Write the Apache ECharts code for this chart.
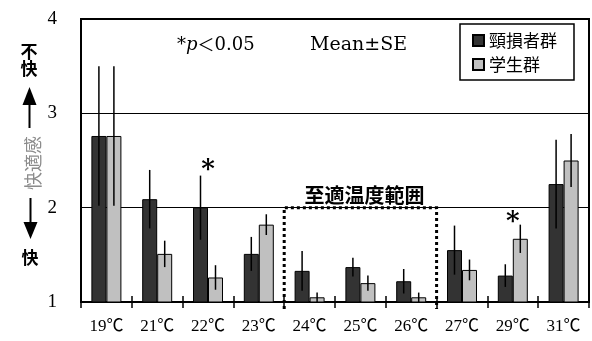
<!DOCTYPE html>
<html>
<head>
<meta charset="utf-8">
<script src="https://cdn.jsdelivr.net/npm/echarts@6/dist/echarts.min.js"></script>
<style>
html,body{margin:0;padding:0;background:#fff;}
#c{width:592px;height:341px;}
</style>
</head>
<body>
<div id="c"></div>
<script>
const categories = ['19℃','21℃','22℃','23℃','24℃','25℃','26℃','27℃','29℃','31℃'];
const injuredMean = [2.76, 2.09, 2.00, 1.51, 1.33, 1.37, 1.22, 1.55, 1.28, 2.25];
const injuredSE   = [0.74, 0.31, 0.34, 0.18, 0.21, 0.10, 0.13, 0.26, 0.12, 0.47];
const studentMean = [2.76, 1.51, 1.26, 1.82, 1.05, 1.20, 1.05, 1.34, 1.67, 2.50];
const studentSE   = [0.74, 0.14, 0.13, 0.11, 0.05, 0.08, 0.05, 0.11, 0.15, 0.28];
const seriesNames = ['頸損者群', '学生群'];
const sigMarks = [['22℃', 2.45], ['29℃', 1.90]];
const optimalRange = ['24℃', '26℃'];
const optimalTop = 2;
const yMin = 1, yMax = 4, yStep = 1;

const BAR_W = 15;
const SERIF = "'Liberation Serif', 'Noto Sans CJK JP', serif";
const CJK = "'Noto Sans CJK JP', sans-serif";

function errSeries(means, ses, offset) {
  return {
    type: 'custom',
    z: 5,
    silent: true,
    data: means.map((m, i) => [i, m, ses[i]]),
    encode: { x: 0, y: 1 },
    renderItem: function (params, api) {
      const i = api.value(0), m = api.value(1), s = api.value(2);
      const top = api.coord([i, m + s]);
      const bot = api.coord([i, Math.max(yMin, m - s)]);
      const x = top[0] + offset;
      return {
        type: 'line',
        shape: { x1: x, y1: top[1], x2: x, y2: bot[1] },
        style: { stroke: '#000', lineWidth: 1.5 }
      };
    }
  };
}

const chart = echarts.init(document.getElementById('c'), null, { renderer: 'canvas' });
chart.setOption({
  animation: false,
  backgroundColor: '#fff',
  grid: { left: 81, right: 3, top: 19, bottom: 39, show: true, borderColor: '#000', borderWidth: 2, backgroundColor: 'transparent' },
  legend: {
    orient: 'vertical',
    left: 460, top: 24,
    data: seriesNames,
    icon: 'rect',
    itemWidth: 11, itemHeight: 11, itemGap: 7, itemTextGap: 7,
    padding: [8, 17, 7, 12],
    borderColor: '#000', borderWidth: 1.5,
    backgroundColor: '#fff',
    textStyle: { fontFamily: CJK, fontSize: 17, color: '#000' }
  },
  xAxis: [{
    type: 'category',
    data: categories,
    axisLine: { lineStyle: { color: '#000', width: 2 } },
    axisTick: { show: true, length: 6, lineStyle: { color: '#000', width: 1.5 } },
    axisLabel: { fontFamily: SERIF, fontSize: 17, color: '#000', margin: 16 }
  }, {
    type: 'category',
    data: categories,
    position: 'bottom',
    axisLine: { show: false },
    axisTick: { show: true, inside: true, length: 6, lineStyle: { color: '#000', width: 1.5 } },
    axisLabel: { show: false }
  }],
  yAxis: {
    type: 'value',
    min: yMin, max: yMax, interval: yStep,
    axisLine: { show: true, lineStyle: { color: '#000', width: 2 } },
    axisTick: { show: false },
    splitLine: { show: true, lineStyle: { color: '#000', width: 1 } },
    axisLabel: { fontFamily: SERIF, fontSize: 19, color: '#000', margin: 24 }
  },
  series: [
    {
      name: seriesNames[0], type: 'bar', data: injuredMean,
      barWidth: BAR_W, barGap: '0%',
      itemStyle: { color: '#333333', borderColor: '#000', borderWidth: 1 }
    },
    {
      name: seriesNames[1], type: 'bar', data: studentMean,
      barWidth: BAR_W, barGap: '0%',
      itemStyle: { color: '#c0c0c0', borderColor: '#000', borderWidth: 1 }
    },
    errSeries(injuredMean, injuredSE, -BAR_W / 2),
    errSeries(studentMean, studentSE, BAR_W / 2)
  ]
});

// decorations computed from axis scales
const iL = categories.indexOf(optimalRange[0]);
const iR = categories.indexOf(optimalRange[1]);
const cL0 = chart.convertToPixel({ xAxisIndex: 0 }, iL - 1);
const cL1 = chart.convertToPixel({ xAxisIndex: 0 }, iL);
const cR0 = chart.convertToPixel({ xAxisIndex: 0 }, iR);
const cR1 = chart.convertToPixel({ xAxisIndex: 0 }, iR + 1);
const xL = (cL0 + cL1) / 2, xR = (cR0 + cR1) / 2;
const yTop = chart.convertToPixel({ yAxisIndex: 0 }, optimalTop);
const yBase = chart.convertToPixel({ yAxisIndex: 0 }, yMin);

const starGraphics = sigMarks.map(function (s) {
  const p = chart.convertToPixel({ gridIndex: 0 }, s);
  return {
    type: 'text', z: 12, x: p[0], y: p[1] + 5,
    style: { text: '*', font: "bold 26px 'DejaVu Serif'", fill: '#000', align: 'center', verticalAlign: 'middle' }
  };
});

chart.setOption({
  graphic: starGraphics.concat([
    {
      type: 'polyline', z: 10,
      shape: { points: [[xL, yBase + 7], [xL, yTop], [xR, yTop], [xR, yBase + 7]] },
      style: { stroke: '#000', lineWidth: 3, lineDash: [3, 3], fill: null }
    },
    {
      type: 'text', z: 11, x: (xL + xR) / 2 + 4, y: yTop - 2,
      style: { text: '至適温度範囲', font: "bold 20px 'Noto Sans CJK JP'", fill: '#000', align: 'center', verticalAlign: 'bottom' }
    },
    {
      type: 'text', x: 177, y: 45,
      style: {
        text: '{a|*}{b|p}{c|＜}{a|0.05}',
        verticalAlign: 'middle',
        rich: {
          a: { fontFamily: "'DejaVu Serif', serif", fontSize: 18, fill: '#000' },
          b: { fontFamily: "'DejaVu Serif', serif", fontSize: 18, fontStyle: 'italic', fill: '#000' },
          c: { fontFamily: "'Noto Sans CJK JP', sans-serif", fontSize: 17, fill: '#000' }
        }
      }
    },
    {
      type: 'text', x: 310, y: 45,
      style: { text: 'Mean±SE', font: "19px 'DejaVu Serif'", fill: '#000', verticalAlign: 'middle' }
    },
    // left side comfort scale
    { type: 'text', x: 29, y: 52, style: { text: '不', font: "bold 17px 'Noto Sans CJK JP'", fill: '#000', align: 'center', verticalAlign: 'middle' } },
    { type: 'text', x: 29, y: 69, style: { text: '快', font: "bold 17px 'Noto Sans CJK JP'", fill: '#000', align: 'center', verticalAlign: 'middle' } },
    { type: 'polygon', shape: { points: [[29.5, 87], [22.5, 105], [36.5, 105]] }, style: { fill: '#000' } },
    { type: 'line', shape: { x1: 29.5, y1: 104, x2: 29.5, y2: 128 }, style: { stroke: '#000', lineWidth: 2 } },
    { type: 'text', x: 33, y: 163, rotation: Math.PI / 2, style: { text: '快適感', font: "18px 'Noto Sans CJK JP'", fill: '#8c8c8c', align: 'center', verticalAlign: 'middle' } },
    { type: 'line', shape: { x1: 30.5, y1: 198, x2: 30.5, y2: 224 }, style: { stroke: '#000', lineWidth: 2 } },
    { type: 'polygon', shape: { points: [[30.5, 239], [23.5, 222], [37.5, 222]] }, style: { fill: '#000' } },
    { type: 'text', x: 30, y: 258, style: { text: '快', font: "bold 17px 'Noto Sans CJK JP'", fill: '#000', align: 'center', verticalAlign: 'middle' } }
  ])
});
</script>
</body>
</html>
